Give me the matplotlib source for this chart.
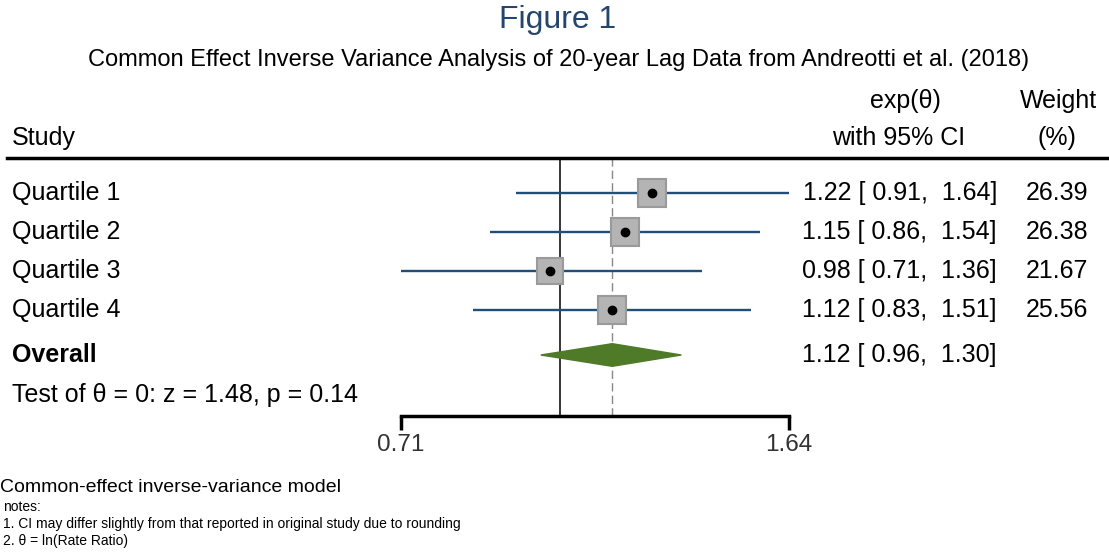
import numpy as np
import matplotlib
matplotlib.use("Agg")
import matplotlib.pyplot as plt
from matplotlib.lines import Line2D
from matplotlib.patches import Polygon
from matplotlib.transforms import blended_transform_factory

plt.rcParams['font.family'] = ['Liberation Sans', 'DejaVu Sans']

# data
studies = ['Quartile 1', 'Quartile 2', 'Quartile 3', 'Quartile 4']
est = [1.22, 1.15, 0.98, 1.12]
lo = [0.91, 0.86, 0.71, 0.83]
hi = [1.64, 1.54, 1.36, 1.51]
weights = [26.39, 26.38, 21.67, 25.56]
overall = (1.12, 0.96, 1.30)
xticks = [0.71, 1.64]
test_label = 'Test of \u03b8 = 0: z = 1.48, p = 0.14'

W, H = 1109, 558
fig = plt.figure(figsize=(W / 100, H / 100), dpi=100)

def fy(p):
    return 1 - p / H

def fx(p):
    return p / W

ax = fig.add_axes([fx(401), fy(416), fx(789) - fx(401), fy(158) - fy(416)])
ax.set_xscale('log')
ax.set_xlim(xticks[0], xticks[1])
ax.set_ylim(6.718, 0.103)
for s in ['top', 'left', 'right']:
    ax.spines[s].set_visible(False)
ax.spines['bottom'].set_linewidth(2.5)
ax.set_yticks([])
ax.set_xticks(xticks)
ax.set_xticklabels(['%.2f' % t for t in xticks])
ax.xaxis.set_minor_locator(matplotlib.ticker.NullLocator())
ax.tick_params(axis='x', direction='out', length=10, width=2.5, labelsize=17.5,
               labelcolor='#333333', pad=3)
ax.set_facecolor('none')

rows = np.arange(1, len(studies) + 1)
y_overall = 5.154
y_test = 6.18

ax.axvline(1.0, color='black', lw=1.1, zorder=1)
ax.axvline(overall[0], color='#888888', lw=1.0, ls=(0, (6, 3)), zorder=1)

for y, e, l, h, w in zip(rows, est, lo, hi, weights):
    ax.plot([l, h], [y, y], color='#1f4e79', lw=1.7, zorder=2, clip_on=False,
            solid_capstyle='butt')
    ax.plot([e], [y], marker='s', ms=20.2 * np.sqrt(w / max(weights)),
            mfc='#b4b4b4', mec='#9a9a9a', mew=1.5, zorder=3, clip_on=False)
    ax.plot([e], [y], marker='o', ms=6, color='black', zorder=4, clip_on=False)

oe, ol, oh = overall
ax.add_patch(Polygon([[ol, y_overall], [oe, y_overall - 0.29], [oh, y_overall],
                      [oe, y_overall + 0.29]], closed=True, fc='#4f7a28',
                     ec='#4f7a28', zorder=3))

tr = blended_transform_factory(fig.transFigure, ax.transData)
fs = 18
for y, name, e, l, h, w in zip(rows, studies, est, lo, hi, weights):
    ax.text(fx(12), y, name, transform=tr, fontsize=fs, va='center', ha='left')
    ax.text(fx(997), y, '%.2f [ %.2f,  %.2f]' % (e, l, h), transform=tr,
            fontsize=fs, va='center', ha='right')
    ax.text(fx(1088), y, '%.2f' % w, transform=tr, fontsize=fs, va='center', ha='right')
ax.text(fx(12), y_overall, 'Overall', transform=tr, fontsize=fs, va='center',
        ha='left', fontweight='bold')
ax.text(fx(997), y_overall, '%.2f [ %.2f,  %.2f]' % overall, transform=tr,
        fontsize=fs, va='center', ha='right')
ax.text(fx(12), y_test, test_label, transform=tr, fontsize=fs, va='center', ha='left')

# header
fig.text(fx(12), fy(138), 'Study', fontsize=fs, va='center', ha='left')
fig.text(fx(905), fy(101), 'exp(\u03b8)', fontsize=fs, va='center', ha='center')
fig.text(fx(899), fy(138), 'with 95% CI', fontsize=fs, va='center', ha='center')
fig.text(fx(1058), fy(101), 'Weight', fontsize=fs, va='center', ha='center')
fig.text(fx(1057), fy(138), '(%)', fontsize=fs, va='center', ha='center')
fig.add_artist(Line2D([fx(7), 1.0], [fy(158), fy(158)], color='black', lw=2.5))

fig.text(fx(558), fy(20), 'Figure 1', fontsize=23, color='#24466e', va='center', ha='center')
fig.text(fx(559), fy(60), 'Common Effect Inverse Variance Analysis of 20-year Lag Data from Andreotti et al. (2018)',
         fontsize=17, va='center', ha='center')

# footer
fig.text(0, fy(488), 'Common-effect inverse-variance model', fontsize=14, va='center', ha='left')
fig.text(fx(3), fy(507), 'notes:', fontsize=10, va='center', ha='left')
fig.text(fx(3), fy(524), '1. CI may differ slightly from that reported in original study due to rounding',
         fontsize=10, va='center', ha='left')
fig.text(fx(3), fy(541), '2. \u03b8 = ln(Rate Ratio)', fontsize=10, va='center', ha='left')

fig.savefig('out.png', dpi=100, facecolor='white')
